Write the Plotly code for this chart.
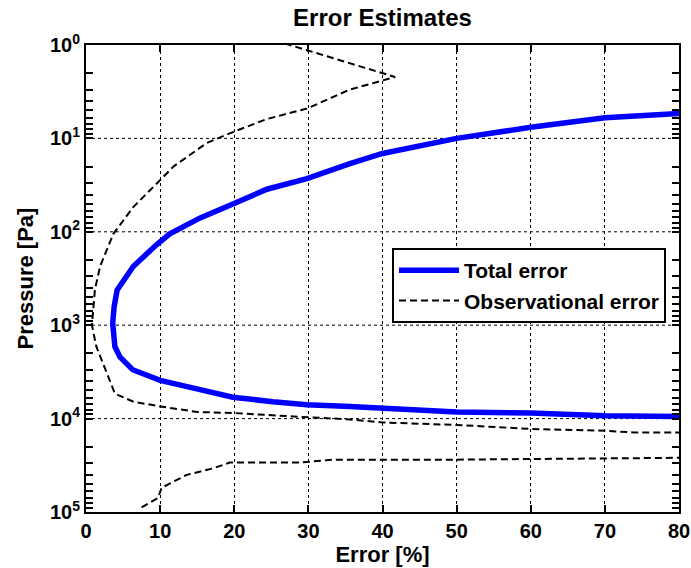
import plotly.graph_objects as go

# Total error (blue)
total_err = [80, 70, 60, 50, 40, 35.6, 29.8, 24.4, 19.9, 15.4, 11.3, 9.5, 6.4, 5.5, 4.2, 3.8, 3.6,
             3.9, 4.6, 6.3, 10, 15.4, 19.8, 25.2, 29.8, 35.6, 40, 50, 60, 70, 80]
total_p = [5.4, 6.0, 7.6, 10, 14.5, 18.6, 27, 35, 50, 71, 105, 138, 234, 300, 420, 630, 950,
           1700, 2200, 3000, 3900, 4900, 5900, 6600, 7100, 7400, 7800, 8500, 8700, 9300, 9500]

# Observational error (dashed), upper branch
obs_err_upper = [25.4, 41.7, 35.6, 29.8, 24.4, 19.9, 16.3, 11.8, 10, 6.4, 3.7, 1.9, 1.2, 0.8,
                 1.4, 2.6, 3.9, 6.4, 10, 15, 19.8, 28, 35.6, 40, 50, 60, 70, 74, 80]
obs_p_upper = [0.89, 2.2, 3.0, 4.8, 6.2, 8.5, 11.2, 20, 28, 54, 105, 234, 417, 1000,
               1700, 3000, 5400, 6600, 7400, 8500, 8700, 9500, 10200, 11000, 11700, 12900, 13500, 14100, 14100]

# Observational error, lower branch
obs_err_lower = [7.5, 9.7, 10.2, 13.6, 17.2, 19.4, 28.9, 33.4, 50, 80]
obs_p_lower = [89000, 71000, 55000, 40000, 34000, 29500, 29500, 27500, 27500, 26300]

ytick_vals = [1, 10, 100, 1000, 10000, 100000]
ytick_text = ["10<sup>0</sup>", "10<sup>1</sup>", "10<sup>2</sup>", "10<sup>3</sup>",
              "10<sup>4</sup>", "10<sup>5</sup>"]
ytick_minor = [k * 10 ** d for d in range(5) for k in range(2, 10)]

# all tick positions on the pressure axis (decades labelled, others blank)
all_tick_vals = ytick_vals + ytick_minor
all_tick_text = ytick_text + [""] * len(ytick_minor)

FONT = "Liberation Sans, Arial, sans-serif"

fig = go.Figure()
fig.add_trace(go.Scatter(x=total_err, y=total_p, mode="lines", name="Total error",
                         line=dict(color="#0000FF", width=5.5)))
fig.add_trace(go.Scatter(x=obs_err_upper + [None] + obs_err_lower,
                         y=obs_p_upper + [None] + obs_p_lower,
                         mode="lines", name="Observational error", connectgaps=False,
                         line=dict(color="black", width=2, dash="7px,4px")))

fig.update_layout(
    width=691, height=568,
    margin=dict(l=86, r=12, t=45, b=56),
    paper_bgcolor="white", plot_bgcolor="white",
    font=dict(family=FONT, color="black", weight="bold"),
    title=dict(text="Error Estimates", x=0.5535, xanchor="center", y=1 - 18 / 568,
               yanchor="middle", yref="container",
               font=dict(size=24, family=FONT, weight="bold", color="black")),
    showlegend=True,
    legend=dict(x=0.516, y=0.565, xanchor="left", yanchor="top",
                bgcolor="white", bordercolor="black", borderwidth=2,
                itemwidth=60,
                font=dict(size=21, family=FONT, weight="bold", color="black"),
                tracegroupgap=0),
    yaxis=dict(
        type="log", range=[5, 0],
        tickmode="array", tickvals=all_tick_vals, ticktext=all_tick_text,
        ticks="inside", ticklen=7, tickwidth=2, tickcolor="black",
        showline=True, linewidth=2, linecolor="black", mirror="ticks",
        showgrid=False, zeroline=False, automargin=False,
        tickfont=dict(size=20, family=FONT, weight="bold", color="black"),
        title=dict(text="Pressure [Pa]", standoff=10,
                   font=dict(size=22, family=FONT, weight="bold", color="black")),
    ),
)

# decade gridlines across the plot, at the labelled tick values
for v in ytick_vals[1:-1]:
    fig.add_hline(y=v, line=dict(color="black", width=1, dash="3px,3px"), layer="below")

fig.update_xaxes(
    range=[0, 80], dtick=10, tick0=0,
    ticks="inside", ticklen=7, tickwidth=2, tickcolor="black",
    showline=True, linewidth=2, linecolor="black", mirror="ticks",
    showgrid=True, gridcolor="black", gridwidth=1, griddash="3px,3px",
    zeroline=False, automargin=False,
    tickfont=dict(size=20, family=FONT, weight="bold", color="black"),
    title=dict(text="Error [%]", standoff=4,
               font=dict(size=22, family=FONT, weight="bold", color="black")),
)

fig.write_html("out.html")
